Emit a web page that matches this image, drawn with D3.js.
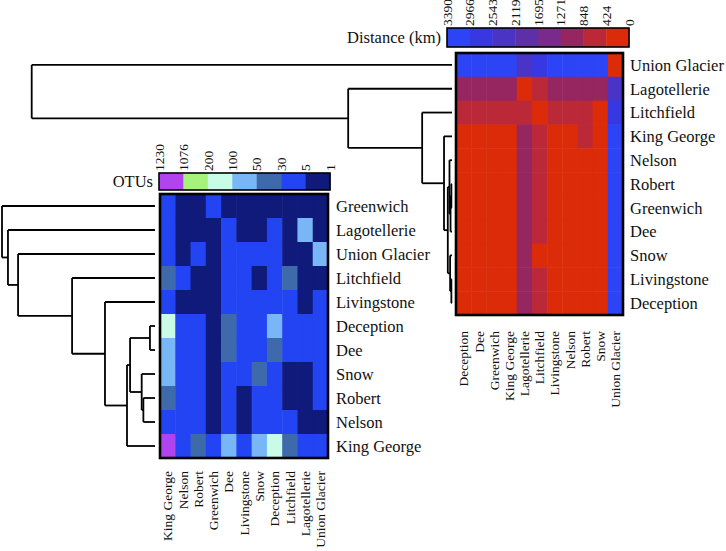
<!DOCTYPE html>
<html><head><meta charset="utf-8">
<script src="https://cdn.jsdelivr.net/npm/d3@7"></script>
<style>
body{margin:0;background:#fff}
svg{display:block}
</style>
</head><body>
<svg id="c" width="726" height="551" font-family="'Liberation Serif', Tinos, 'Times New Roman', 'DejaVu Serif', serif"></svg>
<script>
// ---------- Distance heatmap data ----------
const distRows = ["Union Glacier","Lagotellerie","Litchfield","King George","Nelson","Robert","Greenwich","Dee","Snow","Livingstone","Deception"];
const distCols = ["Deception","Dee","Greenwich","King George","Lagotellerie","Litchfield","Livingstone","Nelson","Robert","Snow","Union Glacier"];
const distValues = [
  [3230,3215,3200,3190,2410,2790,3225,3195,3205,3240,0],
  [1010,990,985,975,0,640,1000,980,985,1020,2410],
  [610,590,585,575,640,0,600,580,590,415,2790],
  [150,110,45,0,975,575,120,60,470,160,3190],
  [120,70,30,60,980,580,100,0,25,140,3195],
  [110,60,20,85,985,590,90,25,0,130,3205],
  [100,55,0,45,985,585,80,30,20,120,3200],
  [60,0,55,110,990,590,40,70,60,70,3215],
  [90,70,120,160,1020,415,50,140,130,0,3240],
  [40,40,80,120,1000,600,0,100,90,50,3225],
  [0,60,100,150,1010,610,40,120,110,90,3230]
];
const distTicks = [3390,2966,2543,2119,1695,1271,848,424,0];
const distColors = ["#2c44f5","#3838e2","#4a34c6","#5d2fa8","#782b8a","#96265f","#bb2938","#dc2b08"];

// ---------- OTU heatmap data ----------
const otuRows = ["Greenwich","Lagotellerie","Union Glacier","Litchfield","Livingstone","Deception","Dee","Snow","Robert","Nelson","King George"];
const otuCols = ["King George","Nelson","Robert","Greenwich","Dee","Livingstone","Snow","Deception","Litchfield","Lagotellerie","Union Glacier"];
const otuValues = [
  [14,2,3,18,2,1,3,2,1,2,1],
  [12,3,2,2,8,3,2,9,4,62,1],
  [10,4,7,1,9,11,8,12,3,1,58],
  [36,9,4,1,11,13,4,15,42,4,3],
  [24,4,3,1,16,22,14,19,13,3,11],
  [160,20,17,2,45,19,23,88,15,9,12],
  [95,18,16,2,38,16,21,45,11,8,9],
  [82,19,15,3,21,14,33,23,4,2,8],
  [44,12,20,3,16,3,15,17,4,2,7],
  [26,12,12,4,18,4,19,20,9,3,4],
  [1210,26,44,14,95,24,82,160,36,12,10]
];
const otuTicks = [1230,1076,200,100,50,30,5,1];
const otuColors = ["#b244f0","#a6f27a","#c8fce6","#78b6f6","#3e6aac","#2244f2","#0f1a7a"];

// ---------- Dendrograms (merge heights, normalised) ----------
const distTree = {h:1.0, c:["Union Glacier", {h:0.247, c:["Lagotellerie", {h:0.071, c:["Litchfield",
  {h:0.019, c:["King George", {h:0.010, c:[
     {h:0.006, c:["Nelson", {h:0.0035, c:[{h:0.0015, c:["Robert","Greenwich"]}, "Dee"]}]},
     {h:0.0045, c:["Snow", {h:0.0015, c:["Livingstone","Deception"]}]}
  ]}]}]}]}]};
const otuTree = {h:1.0, c:["Greenwich", {h:0.961, c:["Lagotellerie", {h:0.895, c:["Union Glacier",
  {h:0.542, c:["Litchfield", {h:0.327, c:["Livingstone", {h:0.183, c:[
     {h:0.163, c:[{h:0.033, c:["Deception","Dee"]}, {h:0.087, c:["Snow", {h:0.076, c:["Robert","Nelson"]}]}]},
     "King George"]}]}]}]}]}]};

const svg = d3.select("#c");
svg.append("rect").attr("width",726).attr("height",551).attr("fill","#fff");

function heatmap(rows, cols, values, color, xr, yr, rowLabelX, colLabelY, labelSize) {
  const x = d3.scaleBand().domain(cols).range(xr);
  const y = d3.scaleBand().domain(rows).range(yr);
  const g = svg.append("g");
  const cells = [];
  rows.forEach((r,i)=>cols.forEach((c,j)=>cells.push({r,c,v:values[i][j]})));
  g.selectAll("rect.cell").data(cells).join("rect")
    .attr("x",d=>x(d.c)).attr("y",d=>y(d.r))
    .attr("width",x.bandwidth()+0.5).attr("height",y.bandwidth()+0.5)
    .attr("fill",d=>color(d.v));
  g.append("rect").attr("x",xr[0]).attr("y",yr[0])
    .attr("width",xr[1]-xr[0]).attr("height",yr[1]-yr[0])
    .attr("fill","none").attr("stroke","#000").attr("stroke-width",2.6);
  g.selectAll("text.row").data(rows).join("text")
    .attr("x",rowLabelX).attr("y",d=>y(d)+y.bandwidth()/2).attr("dy","0.35em")
    .attr("fill","#111").attr("font-size","16.5px").text(d=>d);
  g.selectAll("text.col").data(cols).join("text")
    .attr("text-anchor","end")
    .attr("transform",d=>`translate(${x(d)+x.bandwidth()/2},${colLabelY}) rotate(-90)`)
    .attr("dy","0.35em").attr("fill","#111").attr("font-size",labelSize).text(d=>d);
  return y;
}

function colorbar(ticks, colors, xr, yr, title) {
  const g = svg.append("g");
  const b = d3.scaleBand().domain(d3.range(colors.length)).range(xr);
  const p = d3.scalePoint().domain(ticks.map(String)).range(xr);
  g.selectAll("rect.bin").data(colors).join("rect")
    .attr("x",(d,i)=>b(i)).attr("y",yr[0]).attr("width",b.bandwidth()+0.4).attr("height",yr[1]-yr[0])
    .attr("fill",d=>d);
  g.append("rect").attr("x",xr[0]).attr("y",yr[0]).attr("width",xr[1]-xr[0]).attr("height",yr[1]-yr[0])
    .attr("fill","none").attr("stroke","#000").attr("stroke-width",1.6);
  g.selectAll("text.tick").data(ticks.map(String)).join("text")
    .attr("transform",d=>`translate(${p(d)},${yr[0]-2}) rotate(-90)`)
    .attr("dy","0.35em").attr("fill","#111").attr("font-size","13.5px").text(d=>d);
  g.append("text").attr("x",xr[0]-6).attr("y",(yr[0]+yr[1])/2).attr("dy","0.35em")
    .attr("text-anchor","end").attr("fill","#111").attr("font-size","16.5px").text(title);
}

function dendrogram(tree, yScale, xr) {
  const xs = d3.scaleLinear().domain([0,1]).range(xr);
  const g = svg.append("g").attr("fill","none").attr("stroke","#000").attr("stroke-width",1.8);
  function walk(n) {
    if (typeof n === "string") return {y: yScale(n)+yScale.bandwidth()/2, x: xs(0)};
    const kids = n.c.map(walk);
    const x0 = xs(n.h);
    const ys = kids.map(k=>k.y);
    g.append("line").attr("x1",x0).attr("x2",x0).attr("y1",d3.min(ys)).attr("y2",d3.max(ys));
    kids.forEach(k=>g.append("line").attr("x1",x0).attr("x2",k.x).attr("y1",k.y).attr("y2",k.y));
    return {y: d3.mean(ys), x: x0};
  }
  walk(tree);
}

const distColor = d3.scaleThreshold().domain(distTicks.slice(0,-1).reverse()).range(distColors.slice().reverse());
const otuColor = d3.scaleThreshold().domain(otuTicks.slice(1,-1).reverse()).range(otuColors.slice().reverse());

const yDist = heatmap(distRows, distCols, distValues, distColor, [456,623], [53,315], 630, 331, "13.5px");
const yOtu = heatmap(otuRows, otuCols, otuValues, otuColor, [160,328], [194,458], 336, 471, "13.5px");

colorbar(distTicks, distColors, [447,629], [28,47], "Distance (km)");
colorbar(otuTicks, otuColors, [159,330], [173,190], "OTUs");

dendrogram(distTree, yDist, [452, 31.7]);
dendrogram(otuTree, yOtu, [155, 2]);
</script>
</body></html>
